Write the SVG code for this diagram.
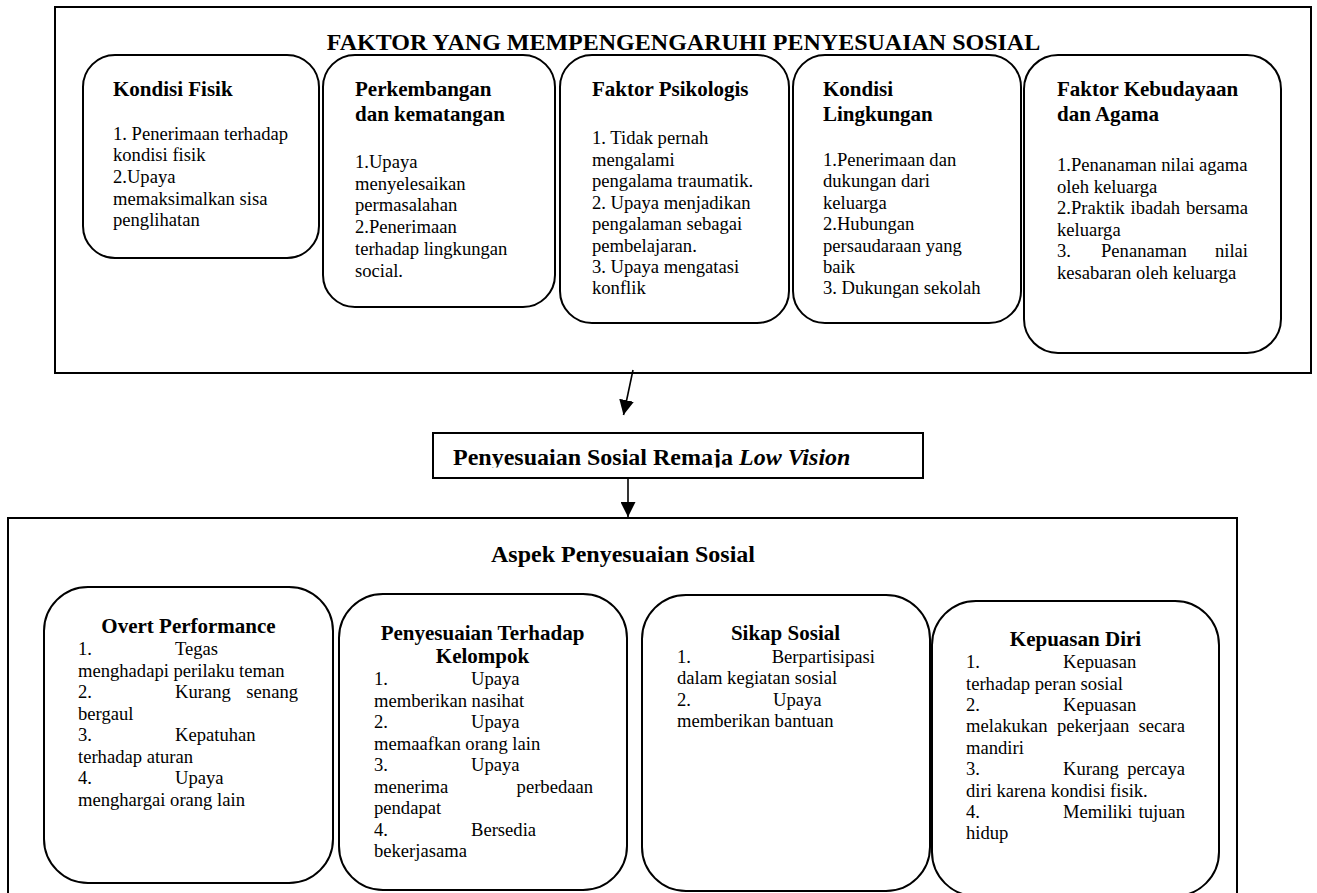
<svg xmlns="http://www.w3.org/2000/svg" width="1317" height="893" viewBox="0 0 1317 893">
<style>
text{font-family:"Liberation Serif","Times New Roman",serif;fill:#000}
.t{font-size:24px;font-weight:bold}
.h{font-size:21px;font-weight:bold}
.b{font-size:18.6px}
.e{text-anchor:end}
.m{text-anchor:middle}
.frame{fill:#fff;stroke:#000;stroke-width:2}
.node{fill:#fff;stroke:#000;stroke-width:2}
.conn{fill:none;stroke:#000;stroke-width:1.6}
</style>
<defs>
<marker id="ah" markerUnits="userSpaceOnUse" markerWidth="15" markerHeight="15" viewBox="0 0 15 15" refX="15" refY="7.5" orient="auto">
<path d="M0,0 L15,7.5 L0,15 z" fill="#000"/>
</marker>
<clipPath id="midclip"><rect x="434" y="434" width="488" height="33.5"/></clipPath>
</defs>
<rect width="1317" height="893" fill="#fff"/>

<g id="faktor-frame">
<rect class="frame" x="55" y="7" width="1256" height="366"/>
<text class="t m" x="683.5" y="50">FAKTOR YANG MEMPENGENGARUHI PENYESUAIAN SOSIAL</text>
</g>

<g id="kondisi-fisik">
<rect class="node" x="83" y="55" width="236" height="203" rx="32" ry="32"/>
<text class="h" x="113" y="96">Kondisi Fisik</text>
<text class="b" x="113" y="139.5">1. Penerimaan terhadap</text>
<text class="b" x="113" y="161">kondisi fisik</text>
<text class="b" x="113" y="183">2.Upaya</text>
<text class="b" x="113" y="204.5">memaksimalkan sisa</text>
<text class="b" x="113" y="226">penglihatan</text>
</g>

<g id="perkembangan">
<rect class="node" x="323" y="55" width="232" height="252" rx="32" ry="32"/>
<text class="h" x="355" y="95.5">Perkembangan</text>
<text class="h" x="355" y="120.5">dan kematangan</text>
<text class="b" x="355" y="168">1.Upaya</text>
<text class="b" x="355" y="189.7">menyelesaikan</text>
<text class="b" x="355" y="211.4">permasalahan</text>
<text class="b" x="355" y="233.1">2.Penerimaan</text>
<text class="b" x="355" y="254.8">terhadap lingkungan</text>
<text class="b" x="355" y="276.5">social.</text>
</g>

<g id="faktor-psikologis">
<rect class="node" x="560" y="55" width="229" height="268" rx="32" ry="32"/>
<text class="h" x="592" y="96">Faktor Psikologis</text>
<text class="b" x="592" y="144">1. Tidak pernah</text>
<text class="b" x="592" y="165.5">mengalami</text>
<text class="b" x="592" y="187">pengalama traumatik.</text>
<text class="b" x="592" y="208.5">2. Upaya menjadikan</text>
<text class="b" x="592" y="230">pengalaman sebagai</text>
<text class="b" x="592" y="251.5">pembelajaran.</text>
<text class="b" x="592" y="273">3. Upaya mengatasi</text>
<text class="b" x="592" y="294">konflik</text>
</g>

<g id="kondisi-lingkungan">
<rect class="node" x="793" y="55" width="228" height="268" rx="32" ry="32"/>
<text class="h" x="823" y="95.5">Kondisi</text>
<text class="h" x="823" y="120.5">Lingkungan</text>
<text class="b" x="823" y="166">1.Penerimaan dan</text>
<text class="b" x="823" y="187">dukungan dari</text>
<text class="b" x="823" y="208.5">keluarga</text>
<text class="b" x="823" y="230">2.Hubungan</text>
<text class="b" x="823" y="251.5">persaudaraan yang</text>
<text class="b" x="823" y="273">baik</text>
<text class="b" x="823" y="294">3. Dukungan sekolah</text>
</g>

<g id="kebudayaan-agama">
<rect class="node" x="1024" y="55" width="257" height="298" rx="34" ry="34"/>
<text class="h" x="1057" y="96">Faktor Kebudayaan</text>
<text class="h" x="1057" y="121">dan Agama</text>
<text class="b" x="1057" y="171">1.Penanaman nilai agama</text>
<text class="b" x="1057" y="192.5">oleh keluarga</text>
<text class="b" x="1057" y="214">2.Praktik</text><text class="b" x="1130.5" y="214">ibadah</text><text class="b e" x="1248" y="214">bersama</text>
<text class="b" x="1057" y="235.5">keluarga</text>
<text class="b" x="1057" y="257">3.</text><text class="b" x="1101" y="257">Penanaman</text><text class="b e" x="1248" y="257">nilai</text>
<text class="b" x="1057" y="278.5">kesabaran oleh keluarga</text>
</g>

<g id="penyesuaian-remaja">
<rect class="frame" x="433" y="433" width="490" height="45"/>
<text class="t" x="453" y="465" clip-path="url(#midclip)">Penyesuaian Sosial Remaja <tspan font-style="italic">Low Vision</tspan></text>
</g>

<g id="aspek-frame">
<rect class="frame" x="8" y="518" width="1229" height="390"/>
<text class="t m" x="623" y="562">Aspek Penyesuaian Sosial</text>
</g>

<g id="overt-performance">
<rect class="node" x="44" y="587" width="289" height="296" rx="44" ry="44"/>
<text class="h m" x="188.5" y="633">Overt Performance</text>
<text class="b" x="78" y="655">1.</text><text class="b" x="175" y="655">Tegas</text>
<text class="b" x="78" y="676.5">menghadapi perilaku teman</text>
<text class="b" x="78" y="698">2.</text><text class="b" x="175" y="698">Kurang</text><text class="b e" x="298" y="698">senang</text>
<text class="b" x="78" y="719.5">bergaul</text>
<text class="b" x="78" y="741">3.</text><text class="b" x="175" y="741">Kepatuhan</text>
<text class="b" x="78" y="762.5">terhadap aturan</text>
<text class="b" x="78" y="784">4.</text><text class="b" x="175" y="784">Upaya</text>
<text class="b" x="78" y="805.5">menghargai orang lain</text>
</g>

<g id="penyesuaian-kelompok">
<rect class="node" x="339" y="594" width="288" height="296" rx="44" ry="44"/>
<text class="h m" x="482.5" y="639.5">Penyesuaian Terhadap</text>
<text class="h m" x="482.5" y="663">Kelompok</text>
<text class="b" x="374" y="685">1.</text><text class="b" x="471" y="685">Upaya</text>
<text class="b" x="374" y="706.5">memberikan nasihat</text>
<text class="b" x="374" y="728">2.</text><text class="b" x="471" y="728">Upaya</text>
<text class="b" x="374" y="749.5">memaafkan orang lain</text>
<text class="b" x="374" y="771">3.</text><text class="b" x="471" y="771">Upaya</text>
<text class="b" x="374" y="792.5">menerima</text><text class="b e" x="593" y="792.5">perbedaan</text>
<text class="b" x="374" y="814">pendapat</text>
<text class="b" x="374" y="835.5">4.</text><text class="b" x="471" y="835.5">Bersedia</text>
<text class="b" x="374" y="857">bekerjasama</text>
</g>

<g id="sikap-sosial">
<rect class="node" x="642" y="595" width="288" height="296" rx="44" ry="44"/>
<text class="h m" x="785.5" y="640">Sikap Sosial</text>
<text class="b" x="677" y="663">1.</text><text class="b e" x="875" y="663">Berpartisipasi</text>
<text class="b" x="677" y="684">dalam kegiatan sosial</text>
<text class="b" x="677" y="706">2.</text><text class="b" x="773" y="706">Upaya</text>
<text class="b" x="677" y="727">memberikan bantuan</text>
</g>

<g id="kepuasan-diri">
<rect class="node" x="932" y="601" width="287" height="295" rx="44" ry="44"/>
<text class="h m" x="1075.5" y="646">Kepuasan Diri</text>
<text class="b" x="966" y="668">1.</text><text class="b" x="1063" y="668">Kepuasan</text>
<text class="b" x="966" y="689.5">terhadap peran sosial</text>
<text class="b" x="966" y="711">2.</text><text class="b" x="1063" y="711">Kepuasan</text>
<text class="b" x="966" y="732">melakukan</text><text class="b" x="1057" y="732">pekerjaan</text><text class="b e" x="1185" y="732">secara</text>
<text class="b" x="966" y="753.5">mandiri</text>
<text class="b" x="966" y="775">3.</text><text class="b" x="1063" y="775">Kurang</text><text class="b e" x="1185" y="775">percaya</text>
<text class="b" x="966" y="796.5">diri karena kondisi fisik.</text>
<text class="b" x="966" y="818">4.</text><text class="b" x="1063" y="818">Memiliki</text><text class="b e" x="1185" y="818">tujuan</text>
<text class="b" x="966" y="839">hidup</text>
</g>

<g id="connectors">
<line class="conn" x1="633" y1="370" x2="623.5" y2="415" marker-end="url(#ah)"/>
<line class="conn" x1="628" y1="478" x2="628" y2="517" marker-end="url(#ah)"/>
</g>
</svg>
